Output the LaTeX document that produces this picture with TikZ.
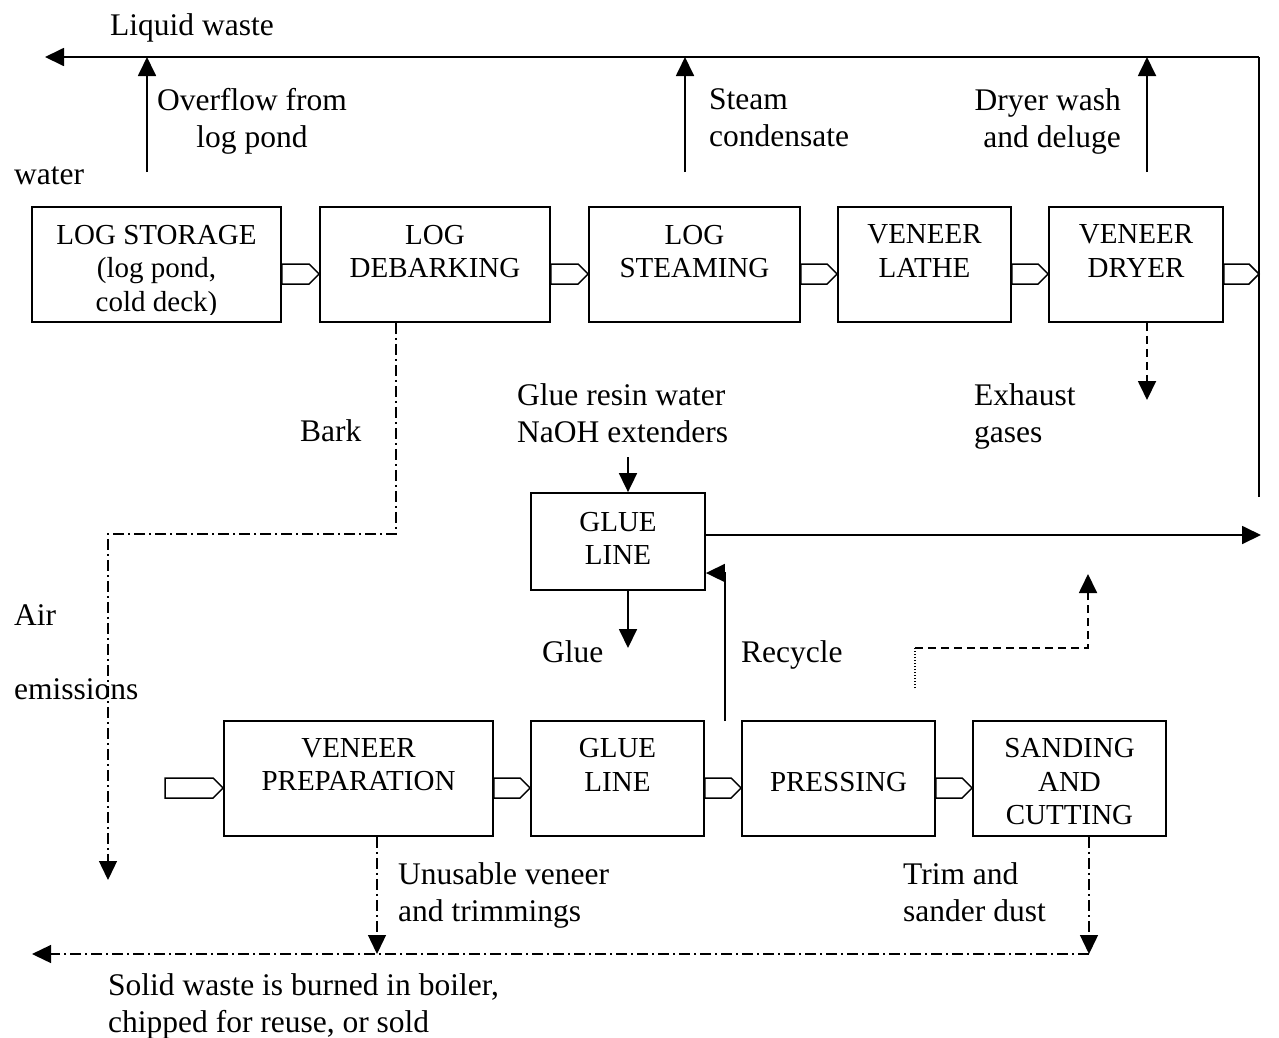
\documentclass[tikz,border=0pt]{standalone}
\usepackage{fontspec}
\setmainfont{Liberation Serif}
\usetikzlibrary{arrows.meta,calc}
\newcommand\blkarrow[2]{\draw[blk] let \p1=(#1), \p2=(#2) in (\x1,\y1+0.5pt) -- (\x2-10pt,\y1+0.5pt) -- (\x2,\y1-9.5pt) -- (\x2-10pt,\y1-19.5pt) -- (\x1,\y1-19.5pt) -- cycle;}
\begin{document}
\begin{tikzpicture}[x=1pt,y=-1pt,
 box/.style={draw, line width=1.8pt, rectangle, inner sep=0pt, minimum height=115pt},
 boxtext/.style={font=\fontsize{29}{33.5}\selectfont, align=center, inner sep=0pt, anchor=north},
 lbl/.style={font=\fontsize{31.5}{36.5}\selectfont, inner sep=0pt},
 tip/.style={-{Triangle[length=19pt,width=18pt]}},
 flow/.style={line width=1.8pt, tip},
 dd/.style={line width=1.3pt, dash pattern=on 11pt off 4pt on 2pt off 4pt, tip},
 dsh/.style={line width=1.8pt, dash pattern=on 8pt off 5pt, tip},
 blk/.style={draw, fill=white, line width=1.5pt, line join=miter},
]
\useasboundingbox (0,0) rectangle (1279,1037);

% ---------- top row boxes ----------
\node[box, minimum width=249pt] (b1) at (156.5,264.5) {};
\node[box, minimum width=230pt] (b2) at (435,264.5) {};
\node[box, minimum width=211pt] (b3) at (694.5,264.5) {};
\node[box, minimum width=173pt] (b4) at (924.5,264.5) {};
\node[box, minimum width=174pt] (b5) at (1136,264.5) {};

\begin{scope}
\clip (32,207) rectangle (281,314);
\node[boxtext] (t1) at ([yshift=-18.5pt]b1.north) {LOG STORAGE\\(log pond,\\cold deck)};
\end{scope}
\node[boxtext] (t2) at ([yshift=-18.5pt]b2.north) {LOG\\DEBARKING};
\node[boxtext] (t3) at ([yshift=-18.5pt]b3.north) {LOG\\STEAMING};
\node[boxtext] (t4) at ([yshift=-18.5pt]b4.north) {VENEER\\LATHE};
\node[boxtext] (t5) at ([yshift=-18.5pt]b5.north) {VENEER\\DRYER};

% ---------- glue line (upper) ----------
\node[box, minimum width=174pt, minimum height=97pt] (g) at (618,541.5) {};
\node[boxtext] (tg) at ([yshift=-19.5pt]g.north) {GLUE\\LINE};

% ---------- lower row boxes ----------
\node[box, minimum width=269pt] (c1) at (358.5,778.5) {};
\node[box, minimum width=173pt] (c2) at (617.5,778.5) {};
\node[box, minimum width=193pt] (c3) at (838.5,778.5) {};
\node[box, minimum width=193pt] (c4) at (1069.5,778.5) {};
\node[boxtext] (u1) at ([yshift=-18pt]c1.north) {VENEER\\PREPARATION};
\node[boxtext] (u2) at ([yshift=-18pt]c2.north) {GLUE\\LINE};
\node[boxtext] (u3) at ([yshift=-51.5pt]c3.north) {PRESSING};
\node[boxtext] (u4) at ([yshift=-18pt]c4.north) {SANDING\\AND\\CUTTING};

% ---------- liquid waste collector ----------
\coordinate (lwR) at (1259,57);
\coordinate (lwL) at (45,57);
\coordinate (vB) at (1259,497);
\coordinate (vM) at (1259,264.5);
\draw[line width=1.8pt] (vB) -- (lwR);
\draw[flow] (lwR) -- (lwL);

% ---------- block arrows ----------
\blkarrow{b1.east}{b2.west}
\blkarrow{b2.east}{b3.west}
\blkarrow{b3.east}{b4.west}
\blkarrow{b4.east}{b5.west}
\blkarrow{b5.east}{vM}
\coordinate (in0) at (165,778.5);
\blkarrow{in0}{c1.west}
\blkarrow{c1.east}{c2.west}
\blkarrow{c2.east}{c3.west}
\blkarrow{c3.east}{c4.west}

% ---------- waste water arrows ----------
\coordinate (o1) at (147,172);
\coordinate (o2) at (685,172);
\coordinate (o3) at (1147,172);
\draw[flow] (o1) -- (o1 |- lwR);
\draw[flow] (o2) -- (o2 |- lwR);
\draw[flow] (o3) -- (o3 |- lwR);

% ---------- exhaust ----------
\coordinate (ex) at (1147,400);
\draw[dsh] (b5.south -| ex) -- (ex);

% ---------- bark ----------
\coordinate (bk1) at (396,534);
\coordinate (bk2) at (108,534);
\coordinate (bk3) at (108,880);
\draw[dd] (b2.south -| bk1) -- (bk1) -- (bk2) -- (bk3);

% ---------- glue line connectors ----------
\coordinate (gin) at (628,457);
\draw[flow] (gin) -- (gin |- g.north);
\coordinate (gout) at (628,648);
\draw[flow] (gout |- g.south) -- (gout);
\coordinate (gR) at (1261,535);
\draw[flow] (g.east |- gR) -- (gR);
\coordinate (rc) at (725,721);
\draw[flow] (rc) |- ([yshift=-31.5pt]g.east);

% ---------- pressing emissions ----------
\coordinate (p1) at (915,688);
\coordinate (p2) at (915,648);
\coordinate (p3) at (1088,648);
\coordinate (p4) at (1088,574);
\draw[line width=1.2pt, dash pattern=on 1.5pt off 1.5pt] (p1) -- (p2);
\draw[dsh] (p2) -- (p3) -- (p4);

% ---------- solid waste ----------
\coordinate (un) at (377,954);
\coordinate (tr) at (1089,954);
\coordinate (sw) at (32,954);
\draw[dd] (c1.south -| un) -- (un);
\draw[dd] (c4.south -| tr) -- (tr);
\draw[dd] (tr) -- (sw);

% ---------- labels ----------
\node[lbl, anchor=base west] (l1) at (110,35) {Liquid waste};
\node[lbl, align=center, anchor=north] (l2) at (252,88.5) {Overflow from\\log pond};
\node[lbl, align=left, anchor=north west] (l3) at (709,88.5) {Steam\\condensate};
\node[lbl, align=right, anchor=north east] (l4) at (1121,88.5) {Dryer wash\\and deluge};
\node[lbl, anchor=base west] (l5) at (14,184) {water};
\node[lbl, anchor=base west] (l6) at (300,441) {Bark};
\node[lbl, align=left, anchor=north west] (l7) at (517,383.5) {Glue resin water\\NaOH extenders};
\node[lbl, align=left, anchor=north west] (l8) at (974,383.5) {Exhaust\\gases};
\node[lbl, anchor=base west] (l9) at (542,662) {Glue};
\node[lbl, anchor=base west] (l10) at (741,662) {Recycle};
\node[lbl, anchor=base west] (l11) at (14,625) {Air};
\node[lbl, anchor=base west] (l12) at (14,699) {emissions};
\node[lbl, align=left, anchor=north west] (l13) at (398,862.5) {Unusable veneer\\and trimmings};
\node[lbl, align=left, anchor=north west] (l14) at (903,862.5) {Trim and\\sander dust};
\node[lbl, align=left, anchor=north west] (l15) at (108,973.5) {Solid waste is burned in boiler,\\chipped for reuse, or sold};
\end{tikzpicture}
\end{document}
